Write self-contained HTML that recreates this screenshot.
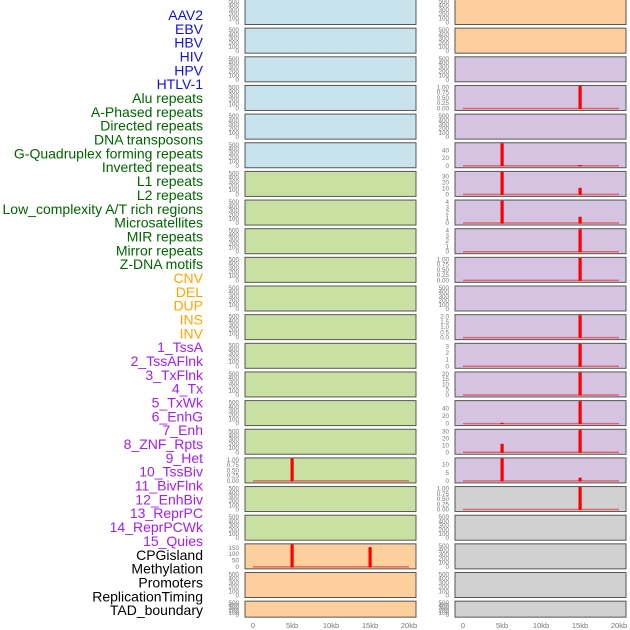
<!DOCTYPE html>
<html><head><meta charset="utf-8"><style>
html,body{margin:0;padding:0;background:#fff;width:630px;height:630px;overflow:hidden}
svg{display:block;font-family:"Liberation Sans",sans-serif}
</style></head><body>
<svg id="chart" width="630" height="630" viewBox="0 0 630 630"></svg>
<script>
const labels=["AAV2","EBV","HBV","HIV","HPV","HTLV-1","Alu repeats","A-Phased repeats","Directed repeats","DNA transposons","G-Quadruplex forming repeats","Inverted repeats","L1 repeats","L2 repeats","Low_complexity A/T rich regions","Microsatellites","MIR repeats","Mirror repeats","Z-DNA motifs","CNV","DEL","DUP","INS","INV","1_TssA","2_TssAFlnk","3_TxFlnk","4_Tx","5_TxWk","6_EnhG","7_Enh","8_ZNF_Rpts","9_Het","10_TssBiv","11_BivFlnk","12_EnhBiv","13_ReprPC","14_ReprPCWk","15_Quies","CPGisland","Methylation","Promoters","ReplicationTiming","TAD_boundary"];
const labelGroups=[0,0,0,0,0,0,1,1,1,1,1,1,1,1,1,1,1,1,1,2,2,2,2,2,3,3,3,3,3,3,3,3,3,3,3,3,3,3,3,4,4,4,4,4];
const groupColors=["#1010e0","#006400","#ffa500","#a020f0","#000000"];
const leftFill=["b","b","b","b","b","b","g","g","g","g","g","g","g","g","g","g","g","g","g","o","o","o"];
const rightFill=["o","o","p","p","p","p","p","p","p","p","p","p","p","p","p","p","p","y","y","y","y","y"];
const fills={b:"#c8e3ec",g:"#c8e1a3",o:"#fdcf9c",p:"#d5c4e1",y:"#d1d1d1"};
const leftTicks={16:[0,0.25,0.5,0.75,1],19:[0,50,100,150]};
const leftMax={16:1,19:165};
const leftSpikes={16:[[5,1.2]],19:[[5,200],[15,155]]};
const rightTicks={3:[0,0.25,0.5,0.75,1],5:[0,20,40],6:[0,10,20,30],7:[0,1,2,3,4],8:[0,1,2,3,4],9:[0,0.25,0.5,0.75,1],11:[0,0.5,1,1.5,2],12:[0,1,2,3],13:[0,5,10,15,20],14:[0,20,40],15:[0,10,20,30],16:[0,5,10],17:[0,0.25,0.5,0.75,1]};
const rightMax={3:1,5:55,6:35,7:4,8:4,9:1,11:2,12:3.2,13:20,14:55,15:30,16:13,17:1};
const rightSpikes={3:[[15,1.2]],5:[[5,80],[15,2]],6:[[5,50],[15,11]],7:[[5,5],[15,1.2]],8:[[15,5]],9:[[15,1.2]],11:[[15,3]],12:[[15,4]],13:[[15,25]],14:[[5,2],[15,70]],15:[[5,12],[15,40]],16:[[5,20],[15,2]],17:[[15,1.2]]};
const xTicks=[0,5,10,15,20];
const xTickLabels=["0","5kb","10kb","15kb","20kb"];

const svg=document.getElementById('chart');
const NS="http://www.w3.org/2000/svg";
function mk(t,a,p){const e=document.createElementNS(NS,t);for(const k in a)e.setAttribute(k,a[k]);(p||svg).appendChild(e);return e;}

labels.forEach((s,i)=>{
  const t=mk('text',{x:203,y:15+i*13.84+5,'text-anchor':'end','font-size':14,fill:groupColors[labelGroups[i]]});
  t.textContent=s;
  
  
});

function fmt(v,ticks){const dec=ticks.some(x=>x%1!==0);if(!dec)return String(v);const two=ticks.some(x=>Math.round(x*100)%10!==0);return v.toFixed(two?2:1);}

function panel(col,i,fillKey,ticks,ymax,spikes){
  const x0=col?455:245,x1=col?626:416;
  const top=-0.5+28.65*i;
  const h=i===21?16:25;
  const g=mk('g',{});
  
  
  mk('rect',{x:x0,y:top,width:x1-x0,height:h,fill:fills[fillKey],stroke:'#555',"stroke-width":1},g);
  const tk=ticks||[0,100,200,300,400,500];
  const ym=ymax||500;
  const yb=top+h-2, yt=top+2;
  const ys=v=>yb-(v/ym)*(yb-yt);
  const xs=v=>x0+8+v*(156/20);
  tk.forEach(v=>{
    const t=mk('text',{x:x0-6,y:ys(v)+2,'text-anchor':'end','font-size':6.3,fill:'#777'},g);
    t.textContent=fmt(v,tk);
    
    
  });
  if(spikes){
    mk('line',{x1:xs(0),x2:xs(20),y1:yb,y2:yb,stroke:'#e05050','stroke-width':1.5,opacity:0.8},g);
    spikes.forEach(([k,v])=>{
      const yy=Math.max(ys(v),top+0.5);
      const r=mk('rect',{x:xs(k)-1.5,y:yy,width:3.2,height:yb-yy+0.5,fill:'#ff0000'},g);
      
      
    });
  }
}
for(let i=0;i<22;i++){
  panel(0,i,leftFill[i],leftTicks[i],leftMax[i],leftSpikes[i]);
  panel(1,i,rightFill[i],rightTicks[i],rightMax[i],rightSpikes[i]);
}
[245,455].forEach(x0=>{
  xTicks.forEach((v,j)=>{
    const t=mk('text',{x:x0+8+v*7.8,y:628,'text-anchor':'middle','font-size':7.5,fill:'#777'});
    t.textContent=xTickLabels[j];
    
    
  });
});
</script>
</body></html>
